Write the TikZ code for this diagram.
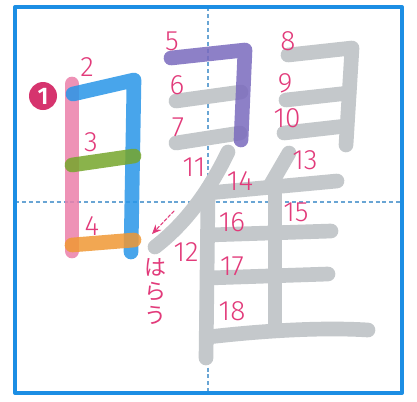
\documentclass[tikz,border=0pt]{standalone}
\usepackage{fontspec}
\setmainfont{Fira Sans Light}
\newfontfamily\jpfont{Noto Sans CJK JP}
\usetikzlibrary{arrows.meta,positioning}
\definecolor{frameBlue}{RGB}{28,142,228}
\definecolor{guideBlue}{RGB}{105,165,212}
\definecolor{labelRed}{RGB}{226,58,122}
\definecolor{circleRed}{RGB}{214,52,110}
\definecolor{strokePink}{RGB}{236,128,170}
\definecolor{strokeBlue}{RGB}{40,150,232}
\definecolor{strokeGreen}{RGB}{118,166,44}
\definecolor{strokeOrange}{RGB}{240,152,52}
\definecolor{strokePurple}{RGB}{122,106,190}
\definecolor{strokeGray}{RGB}{196,200,203}

\begin{document}
\begin{tikzpicture}[x=0.75pt, y=-0.75pt, line cap=round, line join=round,
  every node/.style={font=\fontsize{21}{21}\selectfont, text=labelRed, inner sep=0pt},
  brush/.style={line width=11pt, draw opacity=0.85},
  grey/.style={line width=11pt, draw=strokeGray}]
  \useasboundingbox (0,0) rectangle (417,401);
  % Frame and guide lines
  \fill[white] (15,7) rectangle (402,393);
  \draw[guideBlue, line width=0.9pt, dash pattern=on 3pt off 2.2pt, line cap=butt] (15,202) -- (402,202);
  \draw[guideBlue, line width=0.9pt, dash pattern=on 3pt off 2.2pt, line cap=butt] (208,7) -- (208,393);
  % Grey strokes (right part)
  \draw[grey] (176,101) -- (241,92);
  \draw[grey] (176,143) -- (240,133);
  \draw[grey] (288,55) -- (352,48) -- (346,145);
  \draw[grey] (286,100) -- (349,93);
  \draw[grey] (284,133) -- (346,126);
  \draw[grey] (228,152) .. controls (212,185) and (190,220) .. (155,247);
  \draw[grey] (208,195) -- (206,358);
  \draw[grey] (289,153) -- (271,184);
  \draw[grey] (208,193) -- (337,181);
  \draw[grey] (275,186) -- (275,326);
  \draw[grey] (208,235) -- (331,231);
  \draw[grey] (208,278) -- (328,274);
  \draw[grey] (208,337) .. controls (260,331) and (320,327) .. (368,330);
  % Coloured strokes
  \draw[brush, strokePurple] (171,58) -- (245,50) -- (241,140);
  \draw[brush, strokePink] (72,84) -- (72,251);
  \draw[brush, strokeBlue] (73,94) -- (134,80) -- (131,252);
  \draw[brush, strokeGreen] (72,165) -- (134,156);
  \draw[brush, strokeOrange] (72,245) -- (134,240);
  % Frame
  \draw[frameBlue, line width=3pt] (15,7) rectangle (402,393);
  % Stroke numbers
  \node[circle, fill=circleRed, text=white, minimum size=21pt, font=\fontsize{18}{18}\selectfont\bfseries] (c1) at (43,96) {1};
  \node (n2) at (87,67) {2};
  \node (n3) at (91,142) {3};
  \node (n4) at (92,226) {4};
  \node (n5) at (172,41) {5};
  \node (n6) at (177,85) {6};
  \node (n7) at (178,127) {7};
  \node (n8) at (288,41) {8};
  \node (n9) at (285,83) {9};
  \node (n10) at (287,118) {10};
  \node (n11) at (194,167) {11};
  \node (n12) at (186,252) {12};
  \node (n13) at (305,160) {13};
  \node (n14) at (240,181) {14};
  \node (n15) at (296,212) {15};
  \node (n16) at (232,222) {16};
  \node (n17) at (232,266) {17};
  \node (n18) at (232,311) {18};
  % Sweep note
  \node[align=center, font=\jpfont\fontsize{16.5}{18}\selectfont] (harau) at (155,292) {は\\ら\\う};
  \coordinate (tail) at (174,211);
  \coordinate (tip) at (152,234);
  \draw[labelRed, line width=0.8pt, dash pattern=on 2.5pt off 1.5pt, -{Stealth[length=7pt, width=6pt]}] (tail) -- (tip);
\end{tikzpicture}
\end{document}
